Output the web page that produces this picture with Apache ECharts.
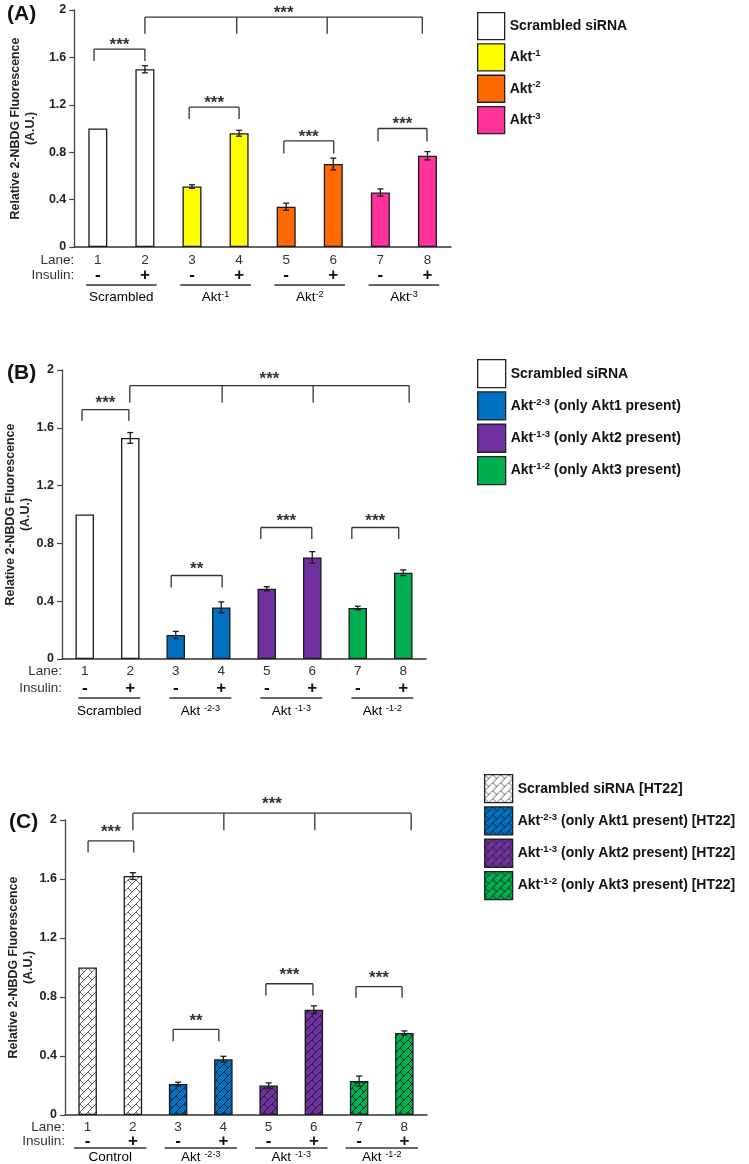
<!DOCTYPE html>
<html>
<head>
<meta charset="utf-8">
<script src="https://cdn.jsdelivr.net/npm/echarts@6/dist/echarts.min.js"></script>
<style>
html, body { margin: 0; padding: 0; background: #fff; }
#main { width: 749px; height: 1164px; }
</style>
</head>
<body>
<div id="main"></div>
<script>
// shared lane labels
var lanes = ['1', '2', '3', '4', '5', '6', '7', '8'];
var insulin = ['-', '+', '-', '+', '-', '+', '-', '+'];

// panel A
var valuesA = [1.00, 1.50, 0.51, 0.96, 0.34, 0.70, 0.46, 0.77];
var errorsA = [0, 0.03, 0.015, 0.025, 0.03, 0.05, 0.03, 0.035];
var groupsA = ['Scrambled siRNA', 'Akt^-1', 'Akt^-2', 'Akt^-3'];
var groupLabelsA = ['Scrambled', 'Akt^-1', 'Akt^-2', 'Akt^-3'];
var bracketLanesA = [[0.92, 2.0], [2.94, 4.0], [4.95, 6.01], [6.95, 7.99], [2.0, 3.95, 5.87, 7.89]];
var bracketTopA = [1.67, 1.18, 0.895, 1.0, 1.94];
var bracketFootA = [1.57, 1.08, 0.79, 0.89, 1.80];
var bracketStarsA = ['***', '***', '***', '***', '***'];

// panel B
var valuesB = [1.00, 1.53, 0.166, 0.357, 0.486, 0.703, 0.353, 0.597];
var errorsB = [0, 0.037, 0.025, 0.038, 0.014, 0.04, 0.012, 0.02];
var groupsB = ['Scrambled siRNA', 'Akt^-2-3 (only Akt1 present)', 'Akt^-1-3 (only Akt2 present)', 'Akt^-1-2 (only Akt3 present)'];
var groupLabelsB = ['Scrambled', 'Akt ^-2-3', 'Akt ^-1-3', 'Akt ^-1-2'];
var bracketLanesB = [[0.94, 1.97], [2.9, 4.02], [4.87, 5.99], [6.87, 7.9], [1.99, 4.02, 6.02, 8.13]];
var bracketTopB = [1.726, 0.578, 0.91, 0.91, 1.892];
var bracketFootB = [1.648, 0.495, 0.83, 0.83, 1.775];
var bracketStarsB = ['***', '**', '***', '***', '***'];

// panel C
var valuesC = [1.00, 1.62, 0.21, 0.378, 0.20, 0.714, 0.23, 0.556];
var errorsC = [0, 0.023, 0.012, 0.02, 0.018, 0.026, 0.034, 0.014];
var groupsC = ['Scrambled siRNA [HT22]', 'Akt^-2-3 (only Akt1 present) [HT22]', 'Akt^-1-3 (only Akt2 present) [HT22]', 'Akt^-1-2 (only Akt3 present) [HT22]'];
var groupLabelsC = ['Control', 'Akt ^-2-3', 'Akt ^-1-3', 'Akt ^-1-2'];
var bracketLanesC = [[1.01, 2.02], [2.89, 3.9], [4.94, 5.98], [6.93, 7.95], [2.0, 4.01, 6.02, 8.15]];
var bracketTopC = [1.858, 0.58, 0.89, 0.87, 2.046];
var bracketFootC = [1.78, 0.50, 0.81, 0.795, 1.93];
var bracketStarsC = ['***', '**', '***', '***', '***'];

var FONT = '"Liberation Sans", Arial, sans-serif';
var INK = '#1a1a1a';

function richSup(s) {
    var m = s.match(/^(.*?)\^(\S+)(.*)$/);
    if (!m) return '{b|' + s + '}';
    return '{b|' + m[1] + '}{sup|' + m[2] + '}' + (m[3] ? '{b|' + m[3] + '}' : '');
}

// hatched fill used in panel C
function hatch(bg, ink) {
    var c = document.createElement('canvas');
    c.width = 8; c.height = 8;
    var ctx = c.getContext('2d');
    ctx.fillStyle = bg;
    ctx.fillRect(0, 0, 8, 8);
    ctx.strokeStyle = ink;
    ctx.lineWidth = 0.9;
    ctx.beginPath();
    ctx.moveTo(-1, 9); ctx.lineTo(9, -1);
    ctx.moveTo(0, 0); ctx.lineTo(4, 4);
    ctx.stroke();
    return { image: c, repeat: 'repeat' };
}

var panels = [
    {
        tag: '(A)', tagPos: [7, 16],
        values: valuesA, errors: errorsA, groups: groupsA, groupLabels: groupLabelsA,
        bLanes: bracketLanesA, bTop: bracketTopA, bFoot: bracketFootA, bStars: bracketStarsA,
        colors: ['#ffffff', '#ffff00', '#ff6a00', '#ff3399'],
        grid: { left: 68, top: 10, width: 383, height: 237 },
        barWidth: 19, nameGap: 32, labelMargin: 6, labelLH: 15,
        ulStart: 0.25, ulEnd: 0.25, ulOff: 38, glOff: 50, starGap: 8,
        legend: { left: 477, top: 12, size: 27, gap: 3 }
    },
    {
        tag: '(B)', tagPos: [7, 375],
        values: valuesB, errors: errorsB, groups: groupsB, groupLabels: groupLabelsB,
        bLanes: bracketLanesB, bTop: bracketTopB, bFoot: bracketFootB, bStars: bracketStarsB,
        colors: ['#ffffff', '#0070c0', '#7030a0', '#00b050'],
        grid: { left: 62, top: 370, width: 364, height: 289 },
        barWidth: 18.5, nameGap: 29, labelMargin: 4, labelLH: 17,
        ulStart: 0.14, ulEnd: 0.22, ulOff: 39, glOff: 52, starGap: 10,
        legend: { left: 477, top: 359, size: 28, gap: 3 }
    },
    {
        tag: '(C)', tagPos: [9, 824],
        values: valuesC, errors: errorsC, groups: groupsC, groupLabels: groupLabelsC,
        bLanes: bracketLanesC, bTop: bracketTopC, bFoot: bracketFootC, bStars: bracketStarsC,
        colors: [hatch('#ffffff', '#555'), hatch('#0070c0', '#1a1a1a'), hatch('#7030a0', '#1a1a1a'), hatch('#00b050', '#1a1a1a')],
        grid: { left: 65, top: 820, width: 362, height: 295 },
        barWidth: 18.5, nameGap: 24, labelMargin: 5, labelLH: 14,
        ulStart: 0.3, ulEnd: 0.3, ulOff: 33, glOff: 42, starGap: 12.5,
        legend: { left: 484, top: 774, size: 28, gap: 3 }
    }
];

var richLabel = {
    b: { fontFamily: FONT, fontSize: 13.5, color: '#333' },
    sup: { fontFamily: FONT, fontSize: 9, color: '#333', verticalAlign: 'top', lineHeight: 9 }
};

function errorItem(params, api) {
    var x = api.value(0);
    var p1 = api.coord([x, api.value(1)]);
    var p2 = api.coord([x, api.value(2)]);
    var st = { stroke: INK, lineWidth: 1.3 };
    return {
        type: 'group',
        children: [
            { type: 'line', shape: { x1: p1[0], y1: p1[1], x2: p2[0], y2: p2[1] }, style: st },
            { type: 'line', shape: { x1: p1[0] - 3, y1: p1[1], x2: p1[0] + 3, y2: p1[1] }, style: st },
            { type: 'line', shape: { x1: p2[0] - 3, y1: p2[1], x2: p2[0] + 3, y2: p2[1] }, style: st }
        ]
    };
}

function bracketItem(pn) {
    return function (params, api) {
        var i = params.dataIndex;
        var xs = pn.bLanes[i];
        var a = api.coord([xs[0], pn.bTop[i]]);
        var b = api.coord([xs[xs.length - 1], pn.bTop[i]]);
        var st = { stroke: '#333', lineWidth: 1.3 };
        var children = [{ type: 'line', shape: { x1: a[0], y1: a[1], x2: b[0], y2: b[1] }, style: st }];
        xs.forEach(function (x) {
            var t = api.coord([x, pn.bTop[i]]);
            var f = api.coord([x, pn.bFoot[i]]);
            children.push({ type: 'line', shape: { x1: t[0], y1: t[1], x2: f[0], y2: f[1] }, style: st });
        });
        children.push({
            type: 'text', x: (a[0] + b[0]) / 2, y: a[1] - pn.starGap + 4,
            style: { text: pn.bStars[i], fontFamily: FONT, fontSize: 17, fontWeight: 'bold', fill: '#333', align: 'center', verticalAlign: 'middle' }
        });
        return { type: 'group', children: children };
    };
}

function groupItem(pn) {
    return function (params, api) {
        var g = params.dataIndex;
        var a = api.coord([2 * g + 1 - pn.ulStart, 0]);
        var b = api.coord([2 * g + 2 + pn.ulEnd, 0]);
        var y = a[1] + pn.ulOff;
        var children = [
            { type: 'line', shape: { x1: a[0], y1: y, x2: b[0], y2: y }, style: { stroke: '#333', lineWidth: 1.4 } },
            {
                type: 'text', x: (a[0] + b[0]) / 2, y: a[1] + pn.glOff,
                style: { text: richSup(pn.groupLabels[g]), rich: richLabel, align: 'center', verticalAlign: 'middle' }
            }
        ];
        if (g === 0) {
            var o = api.coord([0.5, 0]);
            var l1 = o[1] + pn.labelMargin + pn.labelLH / 2;
            children.push({ type: 'text', x: o[0], y: l1, style: { text: 'Lane:', fontFamily: FONT, fontSize: 13.5, fill: '#333', align: 'right', verticalAlign: 'middle' } });
            children.push({ type: 'text', x: o[0], y: l1 + pn.labelLH, style: { text: 'Insulin:', fontFamily: FONT, fontSize: 13.5, fill: '#333', align: 'right', verticalAlign: 'middle' } });
        }
        return { type: 'group', children: children };
    };
}

var grids = [], xAxes = [], yAxes = [], series = [], legends = [], graphics = [];

panels.forEach(function (pn, p) {
    grids.push(pn.grid);
    xAxes.push({
        type: 'category', gridIndex: p, data: lanes,
        axisLine: { lineStyle: { color: '#333', width: 1.5 } },
        axisTick: { show: false },
        axisLabel: {
            margin: pn.labelMargin, interval: 0,
            formatter: function (v, idx) { return '{n|' + v + '}\n{s|' + insulin[idx] + '}'; },
            rich: {
                n: { fontFamily: FONT, fontSize: 13.5, color: '#333', lineHeight: pn.labelLH },
                s: { fontFamily: FONT, fontSize: 17, fontWeight: 'bold', color: '#111', lineHeight: pn.labelLH }
            }
        }
    });
    xAxes.push({ type: 'value', gridIndex: p, min: 0.5, max: 8.5, show: false });
    yAxes.push({
        type: 'value', gridIndex: p, min: 0, max: 2, interval: 0.4,
        name: 'Relative 2-NBDG Fluorescence\n(A.U.)',
        nameLocation: 'middle', nameGap: pn.nameGap, nameRotate: 90,
        nameTextStyle: { fontFamily: FONT, fontSize: 12.4, fontWeight: 'bold', color: '#222', lineHeight: 15 },
        axisLine: { show: true, lineStyle: { color: '#444', width: 1.3 } },
        axisTick: { show: true, length: 5, lineStyle: { color: '#444', width: 1.2 } },
        axisLabel: { margin: 8, fontFamily: FONT, fontSize: 12.5, fontWeight: 'bold', color: '#222' },
        splitLine: { show: false }
    });

    pn.groups.forEach(function (name, g) {
        series.push({
            type: 'bar', name: name, xAxisIndex: 2 * p, yAxisIndex: p,
            stack: 'panel' + p, barWidth: pn.barWidth,
            data: pn.values.map(function (v, i) { return Math.floor(i / 2) === g ? v : '-'; }),
            itemStyle: { color: pn.colors[g], borderColor: INK, borderWidth: 1.3 },
            emphasis: { disabled: true }
        });
    });

    series.push({
        type: 'custom', xAxisIndex: 2 * p, yAxisIndex: p, z: 10, clip: false,
        data: pn.values.map(function (v, i) { return [i, v - pn.errors[i], v + pn.errors[i]]; })
            .filter(function (d) { return d[2] > d[1]; }),
        encode: { x: 0, y: [1, 2] },
        renderItem: errorItem
    });
    series.push({
        type: 'custom', xAxisIndex: 2 * p + 1, yAxisIndex: p, z: 10, clip: false,
        data: pn.bTop.map(function (t, i) { return [pn.bLanes[i][0], t]; }),
        encode: { x: 0, y: 1 },
        renderItem: bracketItem(pn)
    });
    series.push({
        type: 'custom', xAxisIndex: 2 * p + 1, yAxisIndex: p, z: 10, clip: false,
        data: pn.groups.map(function (n, g) { return [2 * g + 1.5, 0]; }),
        encode: { x: 0, y: 1 },
        renderItem: groupItem(pn)
    });

    legends.push({
        data: pn.groups, orient: 'vertical', left: pn.legend.left, top: pn.legend.top,
        padding: 0, itemWidth: pn.legend.size, itemHeight: pn.legend.size, itemGap: pn.legend.gap,
        icon: 'rect', selectedMode: false,
        itemStyle: { borderColor: '#222', borderWidth: 1.3 },
        formatter: richSup,
        textStyle: {
            rich: {
                b: { fontFamily: FONT, fontSize: 14, fontWeight: 'bold', color: '#111', lineHeight: 18 },
                sup: { fontFamily: FONT, fontSize: 9.5, fontWeight: 'bold', color: '#111', verticalAlign: 'top', lineHeight: 10 }
            }
        }
    });

    graphics.push({
        type: 'text', left: pn.tagPos[0], top: pn.tagPos[1] - 12,
        style: { text: pn.tag, fontFamily: FONT, fontSize: 21, fontWeight: 'bold', fill: '#111' }
    });
});

var myChart = echarts.init(document.getElementById('main'));
myChart.setOption({
    animation: false,
    backgroundColor: '#fff',
    grid: grids,
    xAxis: xAxes,
    yAxis: yAxes,
    legend: legends,
    series: series,
    graphic: graphics
});
</script>
</body>
</html>
